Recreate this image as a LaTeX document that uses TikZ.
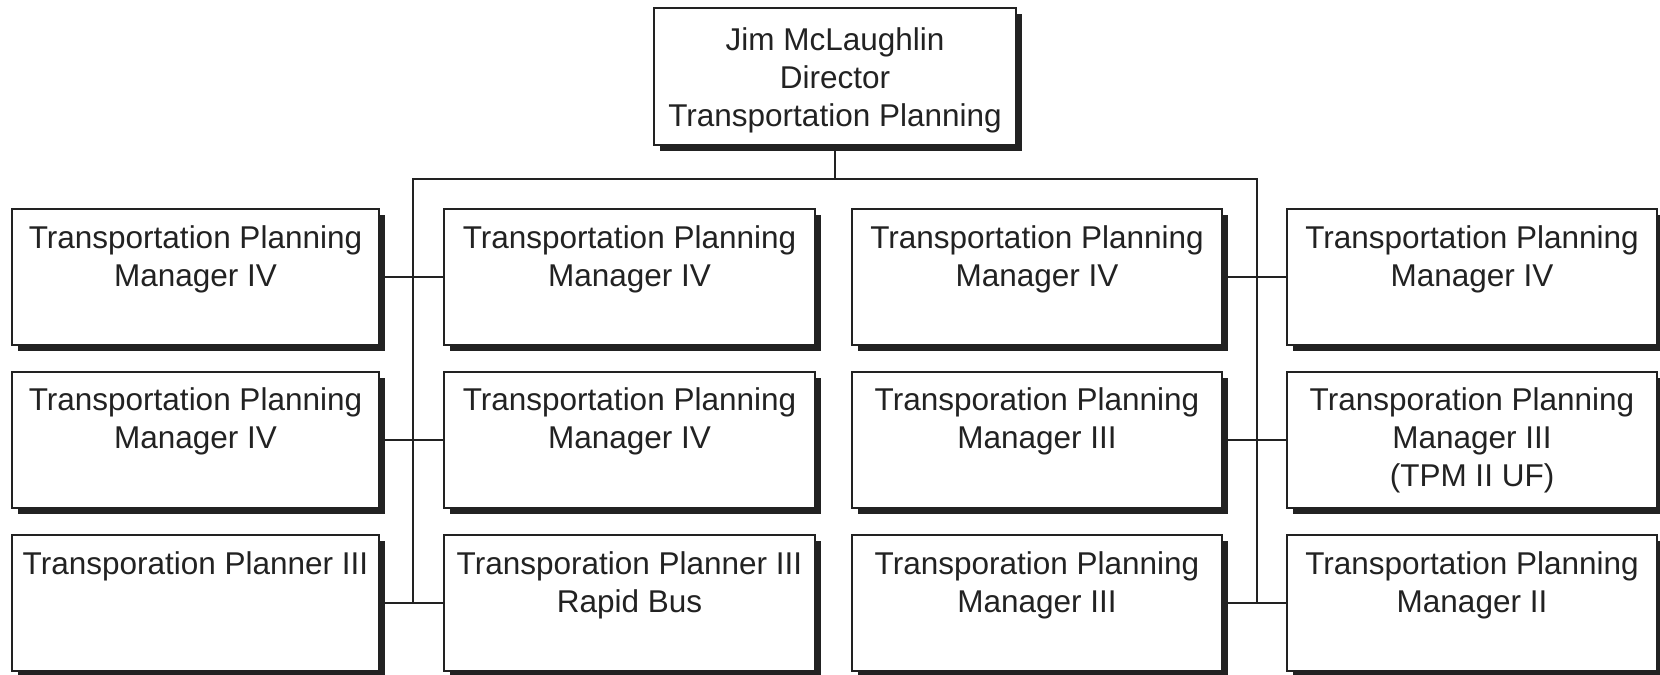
\documentclass[tikz,border=0pt]{standalone}
\usepackage{fontspec}
\setmainfont{Liberation Sans}
\usetikzlibrary{shadows}
\definecolor{ink}{HTML}{222222}
\begin{document}
\begin{tikzpicture}[x=1bp,y=-1bp,
  box/.style={draw=ink, line width=2bp, fill=white, inner sep=0pt,
    minimum width=370bp, minimum height=136bp,
    drop shadow={shadow xshift=6bp, shadow yshift=-6bp, opacity=1, fill=ink}},
  lbl/.style={anchor=north, inner sep=0pt, align=center, text=ink,
    font=\fontsize{31.5bp}{38bp}\selectfont},
  wire/.style={draw=ink, line width=2bp}]
\useasboundingbox (0,0) rectangle (1660,675);
% top
\node[box, minimum width=362bp, minimum height=137bp] (top) at (835,76.5) {};
\node[lbl, yshift=-20bp] (ttop) at (top.north) {Jim McLaughlin\\Director\\Transportation Planning};
% row 1
\node[box, minimum width=367bp] (r1c1) at (195.5,277) {};
\node[box, minimum width=371bp] (r1c2) at (629.5,277) {};
\node[box] (r1c3) at (1037,277) {};
\node[box] (r1c4) at (1472,277) {};
% row 2
\node[box, minimum width=367bp] (r2c1) at (195.5,439.5) {};
\node[box, minimum width=371bp] (r2c2) at (629.5,439.5) {};
\node[box] (r2c3) at (1037,439.5) {};
\node[box] (r2c4) at (1472,439.5) {};
% row 3
\node[box, minimum width=367bp] (r3c1) at (195.5,603) {};
\node[box, minimum width=371bp] (r3c2) at (629.5,603) {};
\node[box] (r3c3) at (1037,603) {};
\node[box] (r3c4) at (1472,603) {};
% labels
\node[lbl, yshift=-17bp] (l11) at (r1c1.north) {Transportation Planning\\Manager IV};
\node[lbl, yshift=-17bp] (l12) at (r1c2.north) {Transportation Planning\\Manager IV};
\node[lbl, yshift=-17bp] (l13) at (r1c3.north) {Transportation Planning\\Manager IV};
\node[lbl, yshift=-17bp] (l14) at (r1c4.north) {Transportation Planning\\Manager IV};
\node[lbl, yshift=-17bp] (l21) at (r2c1.north) {Transportation Planning\\Manager IV};
\node[lbl, yshift=-17bp] (l22) at (r2c2.north) {Transportation Planning\\Manager IV};
\node[lbl, yshift=-17bp] (l23) at (r2c3.north) {Transporation Planning\\Manager III};
\node[lbl, yshift=-17bp] (l24) at (r2c4.north) {Transporation Planning\\Manager III\\(TPM II UF)};
\node[lbl, yshift=-17bp] (l31) at (r3c1.north) {Transporation Planner III};
\node[lbl, yshift=-17bp] (l32) at (r3c2.north) {Transporation Planner III\\Rapid Bus};
\node[lbl, yshift=-17bp] (l33) at (r3c3.north) {Transporation Planning\\Manager III};
\node[lbl, yshift=-17bp] (l34) at (r3c4.north) {Transportation Planning\\Manager II};
% connectors
\coordinate (busL) at (413,179);
\coordinate (busR) at (1257,179);
\draw[wire] (top.south) -- (top.south |- busL);
\draw[wire] (busL |- r3c1.east) -- (busL) -- (busR) -- (busR |- r3c3.east);
\draw[wire] (r1c1.east) -- (r1c2.west);
\draw[wire] (r2c1.east) -- (r2c2.west);
\draw[wire] (r3c1.east) -- (r3c2.west);
\draw[wire] (r1c3.east) -- (r1c4.west);
\draw[wire] (r2c3.east) -- (r2c4.west);
\draw[wire] (r3c3.east) -- (r3c4.west);
\end{tikzpicture}
\end{document}
